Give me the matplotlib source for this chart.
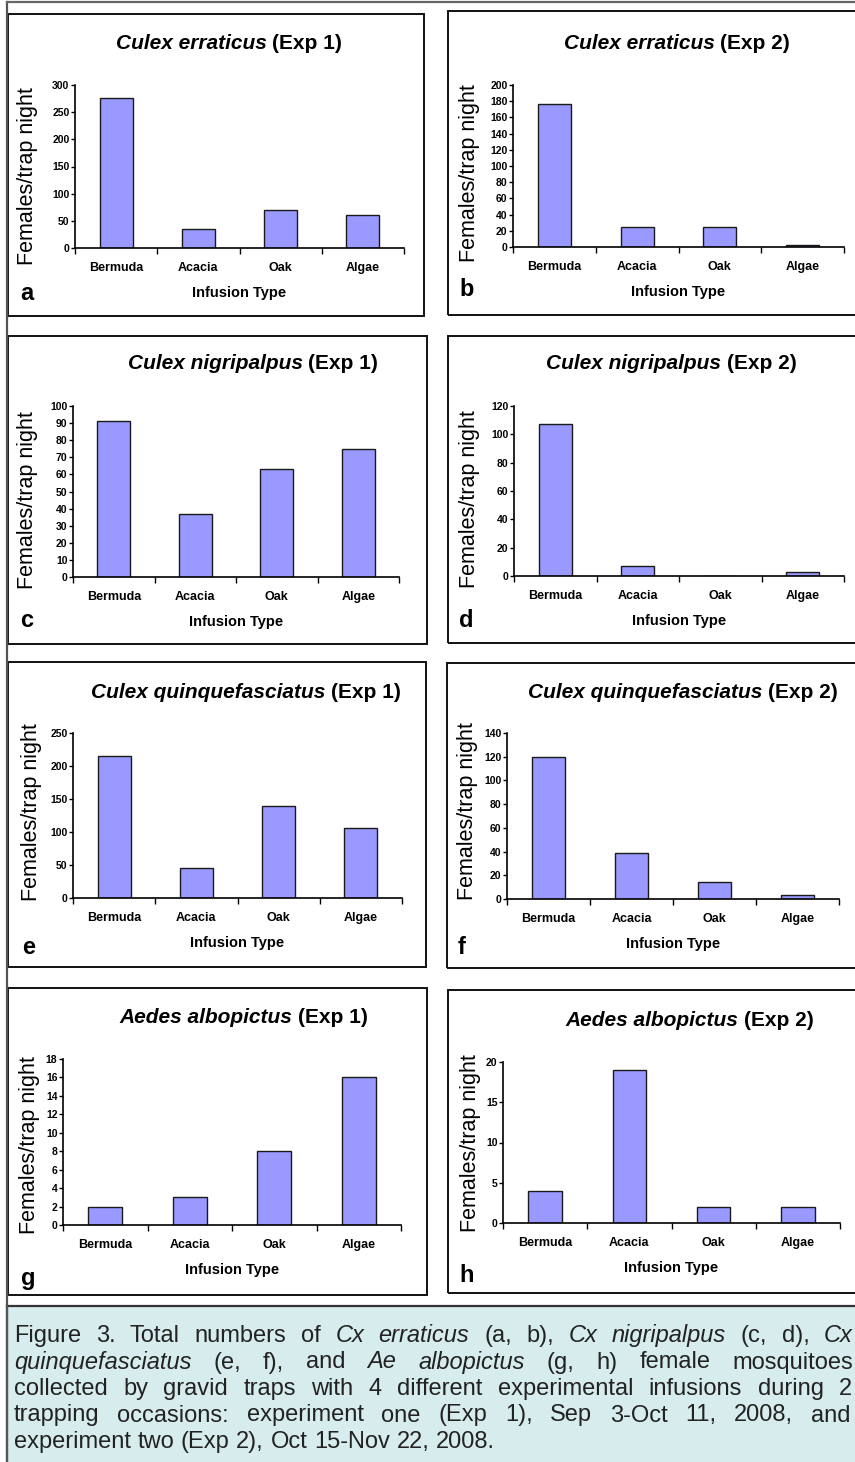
import matplotlib
matplotlib.use('Agg')
import matplotlib.pyplot as plt
from matplotlib.patches import Rectangle
from matplotlib.lines import Line2D
from matplotlib import font_manager

plt.rcParams['font.family'] = ['Liberation Sans', 'DejaVu Sans']

W, H = 855, 1462

# data
categories = ['Bermuda', 'Acacia', 'Oak', 'Algae']
erraticus_1 = [276, 35, 70, 61]
erraticus_2 = [177, 25, 25, 3]
nigripalpus_1 = [91, 37, 63, 75]
nigripalpus_2 = [107, 7, 0, 3]
quinque_1 = [215, 45, 140, 106]
quinque_2 = [120, 39, 14, 3]
albopictus_1 = [2, 3, 8, 16]
albopictus_2 = [4, 19, 2, 2]

values = [erraticus_1, erraticus_2, nigripalpus_1, nigripalpus_2,
          quinque_1, quinque_2, albopictus_1, albopictus_2]
species = ['Culex erraticus', 'Culex erraticus', 'Culex nigripalpus', 'Culex nigripalpus',
           'Culex quinquefasciatus', 'Culex quinquefasciatus', 'Aedes albopictus', 'Aedes albopictus']
experiments = ['(Exp 1)', '(Exp 2)'] * 4
y_max = [300, 200, 100, 120, 250, 140, 18, 20]
y_step = [50, 20, 10, 20, 50, 20, 2, 5]
letters = list('abcdefgh')

caption_lines = [
    "Figure 3. Total numbers of _Cx _erraticus (a, b), _Cx _nigripalpus (c, d), _Cx",
    "_quinquefasciatus (e, f), and _Ae _albopictus (g, h) female mosquitoes",
    "collected by gravid traps with 4 different experimental infusions during 2",
    "trapping occasions: experiment one (Exp 1), Sep 3-Oct 11, 2008, and",
    "experiment two (Exp 2), Oct 15-Nov 22, 2008.",
]

# layout, in pixels of the 855x1462 picture
boxes = [(8, 14, 424, 316), (448, 11, 870, 315), (8, 336, 427, 644), (448, 336, 870, 643),
         (8, 662, 426, 967), (447, 663, 870, 968), (8, 988, 427, 1295), (448, 990, 870, 1293)]
axes_px = [(75, 85, 404, 248), (513, 85, 844, 247), (73, 406, 399, 577), (514, 406, 844, 576),
           (73, 733, 402, 898), (507, 733, 839, 899), (63, 1059, 401, 1225), (503, 1062, 840, 1223)]
title_pos = [(229, 43), (677, 43), (253, 363), (671, 363), (246, 692), (683, 692), (244, 1017), (690, 1020)]
ylabel_pos = [(28, 176), (469, 173), (28, 500), (469, 499), (31, 812), (467, 811), (30, 1145), (470, 1143)]
letter_pos = [(27, 293), (467, 290), (27, 621), (466, 621), (29, 947), (462, 947), (28, 1278), (467, 1275)]
caption_right = [853, 853, 852, 850, None]


def fx(x):
    return x / W


def fy(y):
    return 1 - y / H


def has_font(name):
    try:
        font_manager.findfont(name, fallback_to_default=False)
        return True
    except ValueError:
        return False


fig = plt.figure(figsize=(W / 100, H / 100), dpi=100)
fig.patch.set_facecolor('white')
r = fig.canvas.get_renderer()


def text_width(t):
    return t.get_window_extent(r).width


# outer frame lines
fig.add_artist(Line2D([fx(7), fx(7)], [fy(2), fy(H)], color='#555555', lw=1.6))
fig.add_artist(Line2D([fx(7), fx(W)], [fy(2), fy(2)], color='#666666', lw=1.6))

for i in range(8):
    x0, y0, x1, y1 = boxes[i]
    fig.add_artist(Rectangle((fx(x0), fy(y1)), (x1 - x0) / W, (y1 - y0) / H,
                             transform=fig.transFigure, fill=False, ec='#111111', lw=1.4))

    ax0, ay0, ax1, ay1 = axes_px[i]
    ax = fig.add_axes([fx(ax0), fy(ay1), (ax1 - ax0) / W, (ay1 - ay0) / H])
    x = list(range(len(categories)))
    ax.bar(x, values[i], width=0.4, color='#9999ff', edgecolor='#1a1a1a', lw=1.0)
    ax.set_xlim(-0.5, 3.5)
    ax.set_ylim(0, y_max[i])
    ax.set_yticks(range(0, y_max[i] + 1, y_step[i]))
    ax.set_xticks([-0.5, 0.5, 1.5, 2.5, 3.5])
    ax.set_xticklabels([])
    ax.set_xticks(x, minor=True)
    ax.set_xticklabels(categories, minor=True, fontsize=9, fontweight='bold')
    ax.tick_params(axis='x', which='major', direction='out', length=4, width=1)
    ax.tick_params(axis='x', which='minor', length=0, pad=10)
    ax.tick_params(axis='y', direction='out', length=3, width=1, pad=1, labelsize=7.5)
    for lab in ax.get_yticklabels():
        lab.set_fontweight('bold')
    for s in ['top', 'right']:
        ax.spines[s].set_visible(False)
    for s in ['left', 'bottom']:
        ax.spines[s].set_linewidth(1.2)
    ax.patch.set_alpha(0)

    # x label
    fig.text(fx((ax0 + ax1) / 2), fy(ay1 + 45), 'Infusion Type', fontsize=10.5,
             fontweight='bold', ha='center', va='center')
    # y label
    lx, ly = ylabel_pos[i]
    fig.text(fx(lx), fy(ly), 'Females/trap night', fontsize=15.5, rotation=90,
             ha='center', va='center')
    # panel letter
    px_, py_ = letter_pos[i]
    fig.text(fx(px_), fy(py_), letters[i], fontsize=17, fontweight='bold',
             ha='center', va='center')

    # title: italic species + upright experiment
    tx, ty = title_pos[i]
    t1 = fig.text(0, fy(ty + 6), species[i], fontsize=15, fontweight='bold', style='italic', va='baseline')
    t2 = fig.text(0, fy(ty + 6), experiments[i], fontsize=15, fontweight='bold', va='baseline')
    gap = 0.28 * 15 * 100 / 72
    w1, w2 = text_width(t1), text_width(t2)
    start = tx - (w1 + gap + w2) / 2
    t1.set_x(fx(start))
    t2.set_x(fx(start + w1 + gap))

# caption box
fig.add_artist(Rectangle((fx(7), 0), (870 - 7) / W, (H - 1306) / H, transform=fig.transFigure,
                         fc='#d7ecec', ec='none'))
fig.add_artist(Line2D([fx(7), fx(W)], [fy(1306), fy(1306)], color='#333333', lw=1.6))
fig.add_artist(Line2D([fx(7), fx(7)], [fy(1306), 0], color='#555555', lw=1.6))

cap_family = 'Liberation Sans Narrow' if has_font('Liberation Sans Narrow') else 'Liberation Sans'
cap_size = 19 if cap_family == 'Liberation Sans Narrow' else 17
space = 0.28 * cap_size * 100 / 72
for k, line in enumerate(caption_lines):
    y = 1342 + k * 26.5
    words = line.split(' ')
    ts = []
    for wd in words:
        italic = wd.startswith('_')
        ts.append(fig.text(0, fy(y), wd.lstrip('_'), fontsize=cap_size, family=cap_family,
                           style='italic' if italic else 'normal', color='#222222', va='baseline'))
    widths = [text_width(t) for t in ts]
    left = 14
    if caption_right[k] is None:
        g = space
    else:
        g = max(space * 0.7, (caption_right[k] - left - sum(widths)) / (len(ts) - 1))
    xpos = left
    for t, w in zip(ts, widths):
        t.set_x(fx(xpos))
        xpos += w + g

fig.savefig('out.png', dpi=100)
